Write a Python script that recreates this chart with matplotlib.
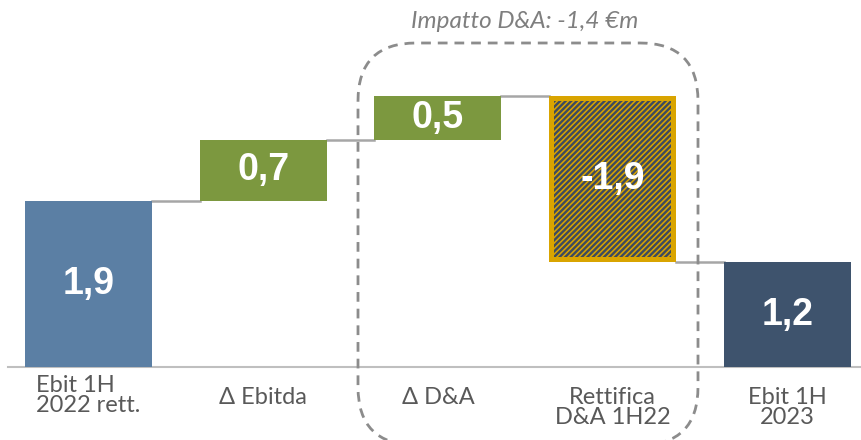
import numpy as np
import matplotlib
matplotlib.use("Agg")
import matplotlib.pyplot as plt
from matplotlib.patches import FancyBboxPatch

# data
categorie = ["Ebit 1H\n2022 rett.", "Δ Ebitda", "Δ D&A", "Rettifica\nD&A 1H22", "Ebit 1H\n2023"]
valori = [1.9, 0.7, 0.5, -1.9, 1.2]
etichette = ["1,9", "0,7", "0,5", "-1,9", "1,2"]
titolo_box = "Impatto D&A: -1,4 €m"

colori = ["#5B7FA4", "#7C983F", "#7C983F", "#D9A400", "#3E536D"]
oro = "#D9A400"
tratteggio = "#3D4A5E"

plt.rcParams['hatch.linewidth'] = 1.7

fig = plt.figure(figsize=(8.61, 4.4), dpi=100)
ax = fig.add_axes([0, 0, 1, 1])
ax.set_xlim(-0.506, 4.421)
ax.set_ylim(-0.835, 4.199)
ax.axis("off")

x = np.arange(len(valori))
w = 0.727

# bottoms / heights of the waterfall
fine = np.cumsum(valori[:-1]).tolist()
bottoms = []
heights = []
for i, v in enumerate(valori):
    if i == 0 or i == len(valori) - 1:
        bottoms.append(0)
        heights.append(v)
    else:
        start = fine[i - 1]
        bottoms.append(min(start, start + v))
        heights.append(abs(v))

for i in range(len(valori)):
    if i == 3:
        ax.bar(x[i], heights[i], w, bottom=bottoms[i], color=oro, lw=0, zorder=2)
        dx, dy = 0.027, 0.054
        ax.bar(x[i], heights[i] - 2 * dy, w - 2 * dx, bottom=bottoms[i] + dy,
               facecolor=oro, edgecolor=tratteggio, hatch="//////", lw=0, zorder=3)
    else:
        ax.bar(x[i], heights[i], w, bottom=bottoms[i], color=colori[i], lw=0, zorder=2)
    ax.text(x[i], bottoms[i] + heights[i] / 2, etichette[i], ha="center", va="center",
            color="white", fontsize=27, fontweight="bold", family="Liberation Sans", zorder=5)

# connectors
livelli = [valori[0]] + fine[1:]
for i in range(len(valori) - 1):
    ax.plot([x[i] + w / 2, x[i + 1] - w / 2], [livelli[i], livelli[i]],
            color="#A6A6A6", lw=1.8, zorder=1)

# baseline
ax.plot([-0.46, 4.45], [0, 0], color="#BFBFBF", lw=1.5, zorder=1)

# category labels
lab_y = [-0.09, -0.23, -0.23, -0.23, -0.23]
for i, c in enumerate(categorie):
    ma = "left" if i == 0 else "center"
    ax.text(x[i], lab_y[i], c, ha="center", va="top", multialignment=ma,
            color="#595959", fontsize=17, family="Lato", linespacing=0.93)

# dashed box
box = FancyBboxPatch((3.58, -0.05), 3.40, 4.02,
                     boxstyle="round,pad=0,rounding_size=0.58",
                     transform=fig.dpi_scale_trans, facecolor="none",
                     edgecolor="#8C8C8C", lw=2, linestyle=(0, (3.5, 2.5)), zorder=4)
fig.patches.append(box)

fig.text(5.25 / 8.61, 1 - 0.22 / 4.4, titolo_box, ha="center", va="center",
         color="#7F7F7F", fontsize=17.5, style="italic", family="Lato")

fig.savefig("out.png", dpi=100)
